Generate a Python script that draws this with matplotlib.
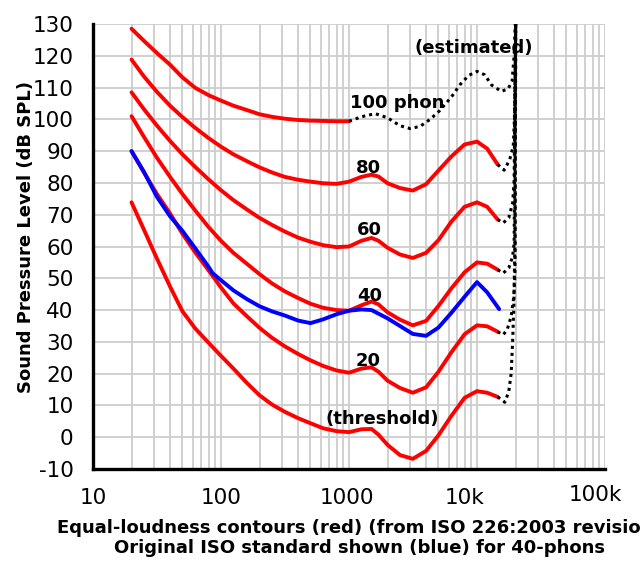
import matplotlib
matplotlib.use("Agg")
import matplotlib.pyplot as plt
from matplotlib.ticker import FixedLocator, NullFormatter, LogLocator

plt.rcParams["axes.unicode_minus"] = False

# frequencies (Hz) shared by the red ISO 226:2003 contours
freqs = [20, 25, 31.5, 40, 50, 63, 80, 100, 125, 160, 200, 250, 315, 400, 500,
         630, 800, 1000, 1250, 1500, 1700, 2000, 2500, 3150, 4000, 5000, 6300,
         8000, 10000, 12000, 14500]

threshold = [73.9, 65.3, 56.3, 47.4, 39.6, 34.2, 29.7, 25.6, 21.6, 17.0, 13.2, 10.3,
             8.0, 6.0, 4.4, 2.8, 1.9, 1.6, 2.5, 2.6, 0.8, -2.4, -5.6, -6.8, -4.3,
             0.6, 6.7, 12.4, 14.5, 14.0, 12.7]
phon20 = [90.0, 83.3, 76.6, 70.4, 64.0, 58.1, 52.5, 47.1, 42.1, 38.0, 34.4, 31.3,
          28.6, 26.2, 24.2, 22.4, 21.0, 20.3, 21.6, 22.0, 20.6, 17.8, 15.5, 14.0,
          15.7, 20.6, 26.7, 32.4, 35.2, 34.9, 33.2]
phon40 = [101.0, 94.5, 88.0, 81.9, 76.5, 71.3, 66.1, 61.8, 58.0, 54.5, 51.3, 48.4,
          45.9, 43.8, 42.0, 40.7, 40.0, 39.8, 41.5, 42.7, 41.8, 39.3, 37.0, 35.2,
          36.6, 41.3, 46.8, 51.9, 55.0, 54.6, 52.7]
phon60 = [108.5, 103.2, 98.1, 93.2, 89.0, 85.0, 81.1, 77.7, 74.6, 71.6, 69.0, 66.8,
          64.7, 62.8, 61.5, 60.4, 59.8, 60.0, 61.8, 62.7, 61.8, 59.6, 57.5, 56.4,
          58.0, 62.0, 67.8, 72.5, 73.9, 72.5, 68.5]
phon80 = [118.8, 113.5, 108.7, 104.3, 100.7, 97.3, 94.1, 91.4, 89.0, 86.8, 84.9, 83.3,
          81.9, 81.0, 80.4, 79.9, 79.7, 80.4, 81.9, 82.6, 82.0, 79.9, 78.4, 77.6,
          79.6, 83.9, 88.3, 92.1, 93.0, 90.8, 85.8]
# 100 phon is only measured up to 1 kHz
phon100 = [128.5, 124.7, 120.9, 117.2, 113.2, 109.9, 107.6, 105.9, 104.3, 102.9,
           101.6, 100.8, 100.2, 99.8, 99.6, 99.5, 99.4, 99.4]

# original ISO standard, 40 phon (blue)
old_freqs = [20, 25, 31.5, 40, 50, 63, 80, 86, 100, 125, 160, 200, 250, 315, 400,
             500, 630, 800, 1000, 1250, 1500, 2000, 2500, 3150, 4000, 5000, 6300,
             8000, 10000, 12000, 14900]
old40 = [90.0, 83.5, 75.7, 69.5, 64.9, 59.4, 53.6, 51.6, 49.4, 46.2, 43.4, 41.2, 39.6,
         38.3, 36.7, 35.9, 37.1, 38.7, 39.8, 40.2, 40.0, 37.4, 35.0, 32.5, 31.9, 34.5,
         39.1, 44.2, 48.8, 45.6, 40.3]

# estimated (dotted) extensions
est100_f = [1000, 1250, 1600, 2000, 2500, 3000, 3600, 4300, 5100, 6300, 7400, 8600,
            10000, 11500, 13000, 15500, 17500, 18800, 19500, 20100]
est100 = [99.4, 100.8, 101.8, 100.5, 98.0, 97.1, 97.8, 100.0, 102.7, 107.0, 111.0,
          113.8, 115.1, 114.0, 110.8, 108.8, 109.6, 112.0, 120.0, 135.0]
est80_f = [14500, 16300, 18000, 19200, 19600, 20100]
est80 = [85.8, 84.0, 87.3, 91.5, 100.0, 135.0]
est60_f = [14500, 16000, 17700, 19000, 19500, 20100]
est60 = [68.5, 67.4, 69.0, 73.7, 81.0, 135.0]
est40_f = [14500, 16000, 17700, 19000, 19500, 20100]
est40 = [52.7, 51.6, 53.2, 56.9, 61.1, 135.0]
est20_f = [14500, 16000, 17200, 18500, 19400, 19800, 20100]
est20 = [33.2, 32.2, 33.8, 38.0, 44.3, 51.6, 135.0]
est0_f = [14500, 16500, 17700, 18500, 19000, 19400, 19800, 20100]
est0 = [12.7, 11.0, 14.3, 20.1, 30.6, 41.1, 62.0, 135.0]

yticks = list(range(-10, 131, 10))
xticks = [10, 100, 1000, 10000, 100000]
xtick_labels = ["10", "100", "1000", "10k", "100k"]


def main():
    fig = plt.figure(figsize=(6.4, 5.74), dpi=100)
    ax = fig.add_axes([0.1453, 0.1829, 0.8, 0.7753])

    ax.set_xscale("log")
    ax.set_xlim(10, 100000)
    ax.set_ylim(-10, 130)

    # grid (minor lines at 2..9 of every decade)
    ax.xaxis.set_major_locator(FixedLocator(xticks))
    ax.xaxis.set_minor_locator(LogLocator(base=10, subs=range(2, 10), numticks=20))
    ax.xaxis.set_minor_formatter(NullFormatter())
    ax.set_xticklabels([])
    ax.set_yticks(yticks)
    ax.set_yticklabels([str(v) for v in yticks])
    ax.grid(True, which="both", axis="x", color="#cdcdcd", lw=1.3)
    ax.grid(True, which="major", axis="y", color="#cdcdcd", lw=1.3)
    ax.set_axisbelow(True)
    ax.tick_params(which="both", length=0, labelsize=15.5, pad=14)

    # x tick labels, nudged like the original rendering
    nudges = [(0, 0), (0, 0), (-2, 0), (-12, 0), (-10, 3)]
    for f, lbl, (dx, dy) in zip(xticks, xtick_labels, nudges):
        ax.annotate(lbl, xy=(f, 0), xycoords=("data", "axes fraction"),
                    xytext=(dx, -19 + dy), textcoords="offset pixels",
                    ha="center", va="top", fontsize=15.5, annotation_clip=False)

    for s in ["top", "right"]:
        ax.spines[s].set_visible(False)
    for s in ["left", "bottom"]:
        ax.spines[s].set_linewidth(2.4)
        ax.spines[s].set_color("black")

    red = dict(color="#ff0000", lw=2.8, solid_capstyle="round", solid_joinstyle="round")
    for vals in [threshold, phon20, phon40, phon60, phon80]:
        ax.plot(freqs, vals, **red)
    ax.plot(freqs[:len(phon100)], phon100, **red)

    ax.plot(old_freqs, old40, color="#0000ff", lw=2.8,
            solid_capstyle="round", solid_joinstyle="round")

    dots = dict(color="black", lw=2.2, linestyle=(0, (1, 1.3)))
    for f, v in [(est100_f, est100), (est80_f, est80), (est60_f, est60),
                 (est40_f, est40), (est20_f, est20), (est0_f, est0)]:
        ax.plot(f, v, **dots)

    # curve labels
    lab = dict(fontsize=13, fontweight="bold", ha="center", va="center")
    ax.text(9500, 122.6, "(estimated)", **lab)
    ax.text(2370, 105.0, "100 phon", **lab)
    ax.text(1426, 84.8, "80", **lab)
    ax.text(1440, 65.3, "60", **lab)
    ax.text(1440, 44.5, "40", **lab)
    ax.text(1400, 24.0, "20", **lab)
    ax.text(1810, 5.7, "(threshold)", **lab)

    fig.text(26 / 640, 1 - 237 / 574, "Sound Pressure Level (dB SPL)", rotation=90,
             fontsize=13, fontweight="bold", ha="center", va="center")
    # first line runs past the right edge, as in the original
    fig.text(359 / 640, 1 - 538 / 574,
             "Equal-loudness contours (red) (from ISO 226:2003 revision)\n"
             "Original ISO standard shown (blue) for 40-phons",
             fontsize=13, fontweight="bold", ha="center", va="center", linespacing=1.2)

    fig.savefig("out.png", dpi=100)
    plt.close(fig)


if __name__ == "__main__":
    main()
